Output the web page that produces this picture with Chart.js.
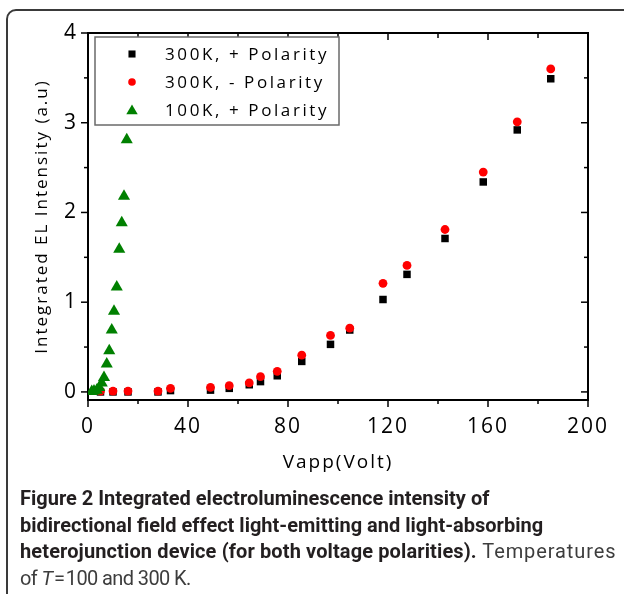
<!DOCTYPE html>
<html><head><meta charset="utf-8">
<script src="https://cdn.jsdelivr.net/npm/chart.js@4.4.1/dist/chart.umd.min.js"></script>
<style>
html,body{margin:0;padding:0;background:#fff;width:624px;height:594px;overflow:hidden;}
#wrap{position:relative;width:624px;height:594px;}
#frame{position:absolute;left:6px;top:9px;width:630px;height:640px;border:2px solid #3a3a3a;border-radius:10px;box-sizing:border-box;pointer-events:none;}
#cv{position:absolute;left:0;top:0;width:624px;height:480px;}
#cap{position:absolute;left:20px;top:485px;font-family:Roboto,'Open Sans',sans-serif;font-size:20px;line-height:26.7px;color:#231f20;white-space:nowrap;letter-spacing:0px;}
#cap b{font-weight:700;}
#cap .r{color:#3d3d3d;font-weight:400;letter-spacing:0.4px;}
#cap .b3{letter-spacing:0.12px;}
#cap .t{letter-spacing:0.9px;}
#cap .last{letter-spacing:-0.6px;}
</style></head>
<body><div id="wrap"><canvas id="cv" width="624" height="480"></canvas><div id="frame"></div>
<div id="cap"><b>Figure 2</b> <b>Integrated electroluminescence intensity of</b><br><b>bidirectional field effect light-emitting and light-absorbing</b><br><b class="b3">heterojunction device (for both voltage polarities).</b><span class="r t"> Temperatures</span><br><span class="r last">of <i>T</i>&#8202;=&#8202;100 and 300 K.</span></div></div>
<script>
// ---- data ----
const volt300 = [5, 10, 16, 28, 33, 49, 56.5, 64.5, 69, 75.7, 85.5, 97, 104.7, 118, 127.6, 142.8, 158.1, 171.7, 185.1];
const elPlus300 = [0.00, 0.00, 0.00, 0.00, 0.015, 0.02, 0.04, 0.08, 0.115, 0.18, 0.34, 0.53, 0.69, 1.03, 1.31, 1.71, 2.34, 2.92, 3.49];
const elMinus300 = [0.01, 0.01, 0.01, 0.01, 0.04, 0.05, 0.07, 0.10, 0.17, 0.23, 0.41, 0.63, 0.71, 1.21, 1.41, 1.81, 2.45, 3.01, 3.60];
const volt100 = [1.5, 2.4, 3.5, 4.5, 5.5, 6.4, 7.5, 8.5, 9.5, 10.4, 11.5, 12.5, 13.5, 14.4, 15.5];
const elPlus100 = [0.005, 0.01, 0.02, 0.05, 0.10, 0.16, 0.31, 0.46, 0.69, 0.90, 1.17, 1.59, 1.885, 2.18, 2.81];
const seriesLabels = ['300K, + Polarity', '300K, - Polarity', '100K, + Polarity'];
const xTickValues = [0, 40, 80, 120, 160, 200];
const xMinorTicks = [20, 60, 100, 140, 180];
const yTickValues = [0, 1, 2, 3, 4];
const yMinorTicks = [0.5, 1.5, 2.5, 3.5];
const xTitle = 'Vapp(Volt)';
const yTitle = 'Integrated EL Intensity (a.u)';

const FONT = "'Open Sans', 'DejaVu Sans', sans-serif";
const toXY = (xs, ys) => xs.map((x, i) => ({x: x, y: ys[i]}));
const styles = [
  {pointStyle: 'rect', color: '#000000', r: 5.3, lr: 5},
  {pointStyle: 'circle', color: '#ff0000', r: 4.4, lr: 3.8},
  {pointStyle: 'triangle', color: '#008000', r: 7, lr: 6.6}
];

function drawSymbol(ctx, style, x, y, r) {
  ctx.fillStyle = style.color;
  ctx.beginPath();
  if (style.pointStyle === 'rect') {
    const s = r * Math.SQRT1_2;
    ctx.rect(x - s, y - s, 2 * s, 2 * s);
  } else if (style.pointStyle === 'circle') {
    ctx.arc(x, y, r, 0, Math.PI * 2);
  } else {
    ctx.moveTo(x, y - r);
    ctx.lineTo(x + 0.866 * r, y + 0.5 * r);
    ctx.lineTo(x - 0.866 * r, y + 0.5 * r);
    ctx.closePath();
  }
  ctx.fill();
}

const axisFrame = {
  id: 'axisFrame',
  beforeDraw(chart) { chart.ctx.letterSpacing = '2px'; },
  beforeDatasetsDraw(chart) {
    const {ctx, chartArea: a, scales: {x, y}} = chart;
    ctx.save();
    ctx.strokeStyle = '#000';
    const line = (x1, y1, x2, y2) => { ctx.beginPath(); ctx.moveTo(x1, y1); ctx.lineTo(x2, y2); ctx.stroke(); };
    ctx.lineWidth = 1.5;
    xTickValues.forEach(v => { const p = x.getPixelForValue(v); line(p, a.bottom, p, a.bottom + 7); line(p, a.top, p, a.top + 7); });
    xMinorTicks.forEach(v => { const p = x.getPixelForValue(v); line(p, a.bottom, p, a.bottom + 4); line(p, a.top, p, a.top + 5); });
    yTickValues.forEach(v => { const p = y.getPixelForValue(v); line(a.left - 7, p, a.left, p); line(a.right - 7, p, a.right, p); });
    yMinorTicks.forEach(v => { const p = y.getPixelForValue(v); line(a.left - 4, p, a.left, p); line(a.right - 4, p, a.right, p); });
    ctx.lineWidth = 2;
    ctx.strokeRect(a.left, a.top, a.right - a.left, a.bottom - a.top);
    ctx.restore();
  },
  afterDatasetsDraw(chart) {
    const {ctx, chartArea: a} = chart;
    ctx.save();
    const bx = a.left + 7, by = a.top + 4, bw = 244, bh = 88;
    ctx.fillStyle = '#fff';
    ctx.fillRect(bx, by, bw, bh);
    ctx.strokeStyle = '#6a6a6a';
    ctx.lineWidth = 1.5;
    ctx.strokeRect(bx, by, bw, bh);
    const rows = [a.top + 21, a.top + 49, a.top + 77];
    ctx.font = '17px ' + FONT;
    ctx.letterSpacing = '2.6px';
    ctx.textBaseline = 'middle';
    ctx.textAlign = 'left';
    seriesLabels.forEach((lab, i) => {
      drawSymbol(ctx, styles[i], a.left + 44, rows[i] + (i === 2 ? 1 : 0), styles[i].lr);
      ctx.fillStyle = '#000';
      ctx.fillText(lab, a.left + 77, rows[i] + 1);
    });
    ctx.restore();
  }
};

new Chart(document.getElementById('cv'), {
  type: 'scatter',
  data: {
    datasets: [0, 1, 2].map(i => ({
      label: seriesLabels[i],
      data: i === 0 ? toXY(volt300, elPlus300) : i === 1 ? toXY(volt300, elMinus300) : toXY(volt100, elPlus100),
      pointStyle: styles[i].pointStyle,
      pointRadius: styles[i].r,
      pointHoverRadius: styles[i].r,
      backgroundColor: styles[i].color,
      borderColor: styles[i].color,
      pointBorderWidth: 0,
      showLine: false,
      order: 3 - i
    }))
  },
  options: {
    responsive: false,
    animation: false,
    devicePixelRatio: 1,
    layout: {padding: {left: 0, right: 36, top: 33, bottom: 0}},
    plugins: {legend: {display: false}, tooltip: {enabled: false}},
    events: [],
    scales: {
      x: {
        type: 'linear', position: 'bottom', min: 0, max: 200,
        afterFit: s => { s.height = 80; },
        afterBuildTicks: s => { s.ticks = xTickValues.map(v => ({value: v})); },
        ticks: {padding: 14, color: '#000', font: {family: FONT, size: 21}, maxRotation: 0, autoSkip: false, callback: v => String(v)},
        grid: {display: false, drawTicks: false},
        border: {display: false},
        title: {display: true, text: xTitle, color: '#000', font: {family: FONT, size: 19}, padding: {top: 0, bottom: 6}}
      },
      y: {
        type: 'linear', position: 'left', min: -0.09, max: 4,
        afterFit: s => { s.width = 88; },
        afterBuildTicks: s => { s.ticks = yTickValues.map(v => ({value: v})); },
        ticks: {padding: 10, color: '#000', font: {family: FONT, size: 21}, autoSkip: false, callback: v => String(v)},
        grid: {display: false, drawTicks: false},
        border: {display: false},
        title: {display: true, text: yTitle, color: '#000', font: {family: FONT, size: 17}, padding: {top: 32, bottom: 0}}
      }
    }
  },
  plugins: [axisFrame]
});
</script>
</body></html>
